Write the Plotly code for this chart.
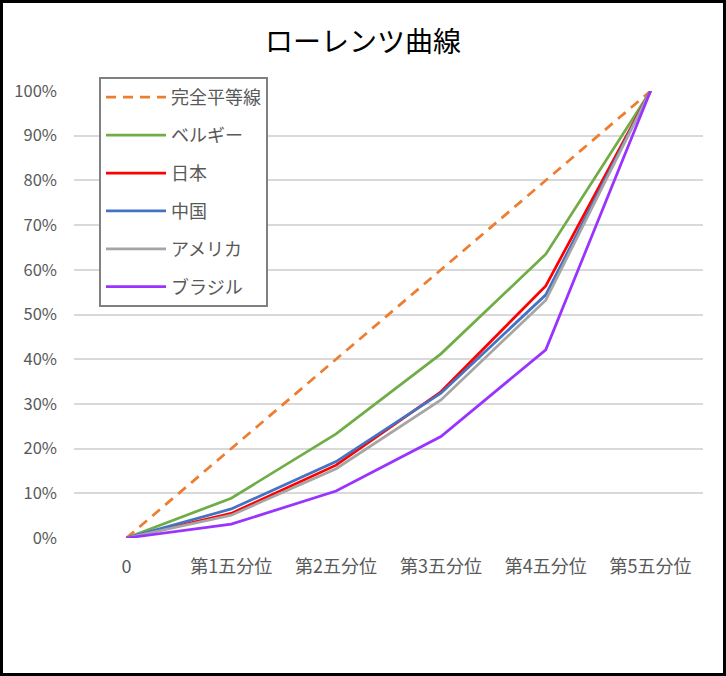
import plotly.graph_objects as go

categories = ["0", "第1五分位", "第2五分位", "第3五分位", "第4五分位", "第5五分位"]
equality = [0, 0.2, 0.4, 0.6, 0.8, 1.0]
belgium = [0, 0.089, 0.233, 0.412, 0.635, 1.0]
japan = [0, 0.055, 0.163, 0.327, 0.564, 1.0]
china = [0, 0.065, 0.171, 0.324, 0.544, 1.0]
usa = [0, 0.051, 0.155, 0.309, 0.532, 1.0]
brazil = [0, 0.031, 0.105, 0.227, 0.421, 1.0]
y_ticks = [i / 10 for i in range(11)]
y_labels = [f"{i*10}%" for i in range(11)]

series = [
    ("完全平等線", equality, "#ED7D31", "10px,7px"),
    ("ベルギー", belgium, "#70AD47", "solid"),
    ("日本", japan, "#FF0000", "solid"),
    ("中国", china, "#4472C4", "solid"),
    ("アメリカ", usa, "#A5A5A5", "solid"),
    ("ブラジル", brazil, "#9933FF", "solid"),
]

fig = go.Figure()
for i, (name, vals, color, dash) in enumerate(series):
    fig.add_trace(go.Scatter(
        x=list(range(len(categories))), y=vals, name=name, mode="lines",
        line=dict(color=color, width=2.75, dash=dash),
        legendgroup=f"g{i}",
    ))

W, H = 726, 676
L, R, T, B = 74, 23, 91, 138
PW, PH = W - L - R, H - T - B
font = "Noto Sans CJK JP"
fig.update_layout(
    width=W, height=H,
    paper_bgcolor="white", plot_bgcolor="white",
    margin=dict(l=L, r=R, t=T, b=B),
    title=dict(text="ローレンツ曲線", x=0.5, xanchor="center", xref="container",
               y=1 - 42 / H, yanchor="middle", yref="container",
               font=dict(family=font, size=28, color="#000000")),
    font=dict(family=font, color="#595959"),
    xaxis=dict(range=[-0.5, 5.5], tickmode="array",
               tickvals=list(range(len(categories))), ticktext=categories,
               showgrid=False, zeroline=False, showline=False,
               tickfont=dict(size=18, color="#595959"), ticks="", ticklabelstandoff=16),
    yaxis=dict(range=[0, 1.0], tickmode="array", tickvals=y_ticks, ticktext=y_labels,
               showgrid=True, gridcolor="#D9D9D9", gridwidth=1.5,
               zeroline=False, showline=False, ticks="",
               tickfont=dict(size=16.5, color="#595959"), ticklabelstandoff=16),
    legend=dict(x=(99 - L) / PW, y=1 + (T - 77) / PH, xanchor="left", yanchor="top",
                bordercolor="#808080", borderwidth=2, bgcolor="white",
                traceorder="grouped", tracegroupgap=11.5, itemwidth=60,
                font=dict(family=font, size=18, color="#595959")),
)
fig.add_shape(type="rect", xref="paper", yref="paper",
              x0=-L / PW + 1.5 / PW, x1=1 + R / PW - 1.5 / PW,
              y0=-B / PH + 1.5 / PH, y1=1 + T / PH - 1.5 / PH,
              line=dict(color="black", width=3), layer="above")

fig.write_html("out.html", config={"displayModeBar": False},
               post_script="document.body.style.margin='0';document.body.style.overflow='hidden';")
